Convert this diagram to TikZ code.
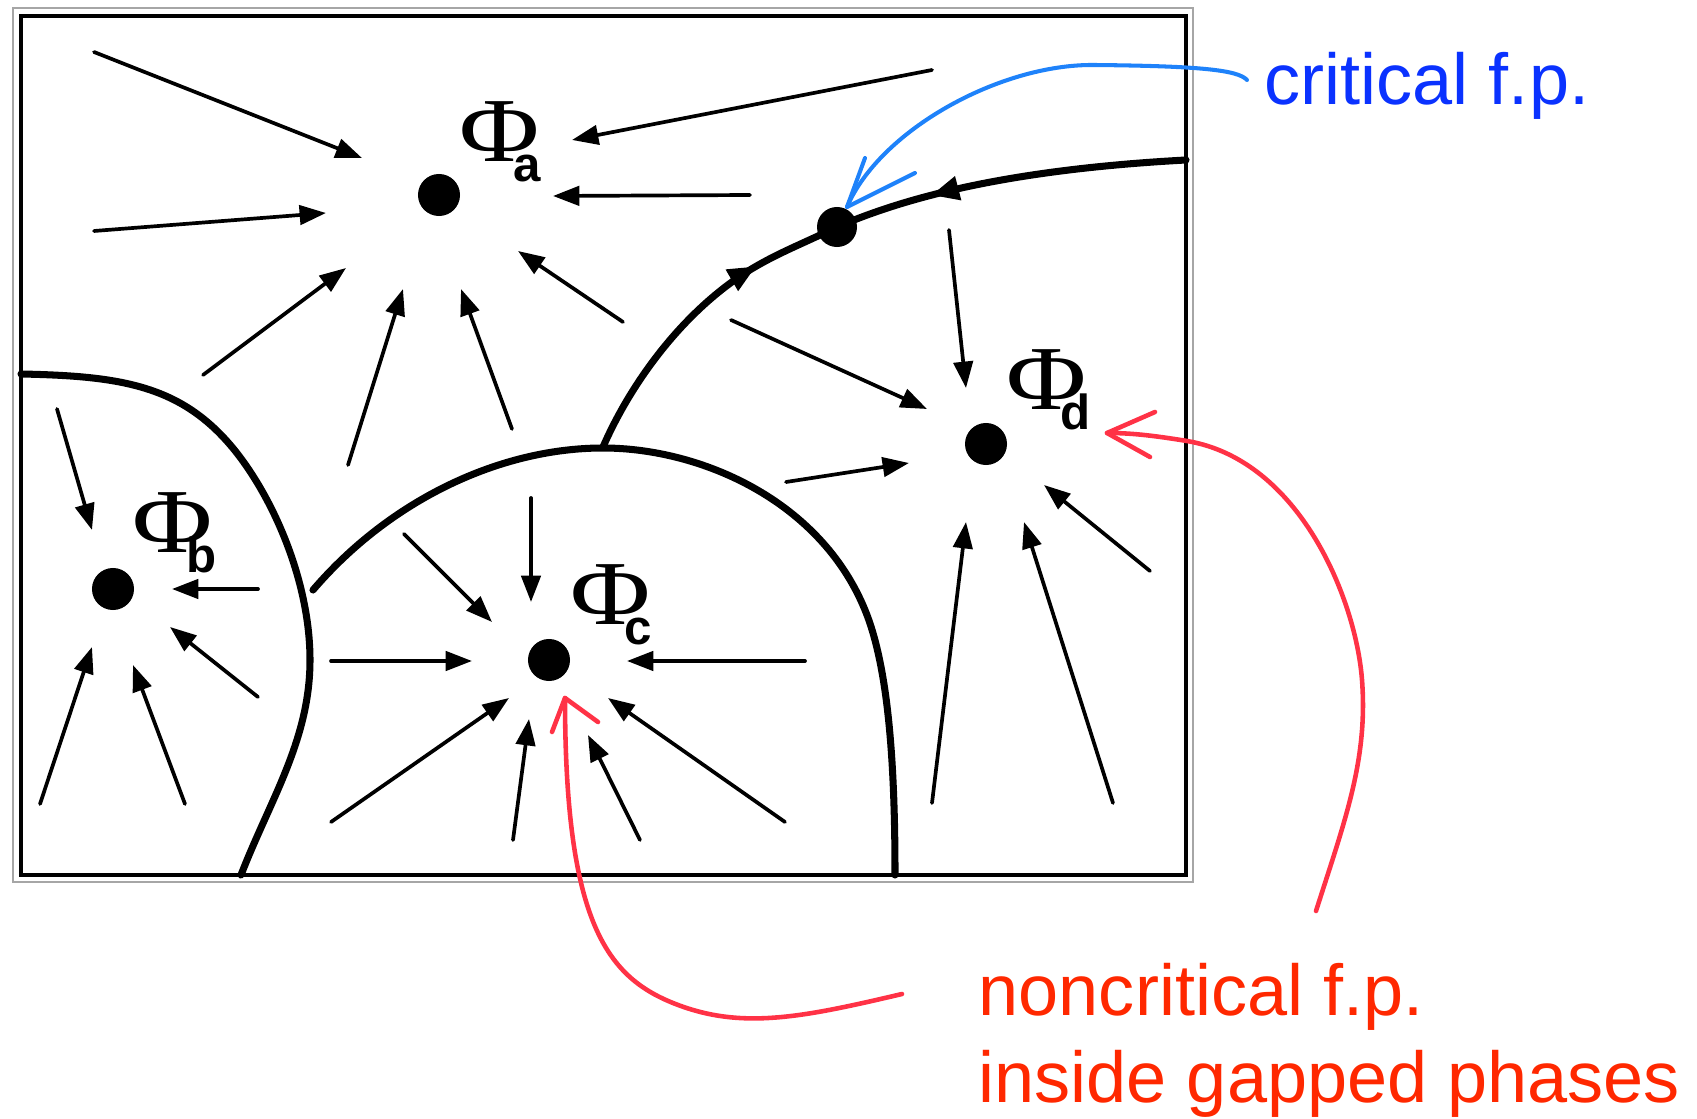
\documentclass[tikz,border=0pt]{standalone}
\usepackage{fontspec}
\setmainfont{Liberation Sans}
\newfontfamily\phifont{Liberation Serif}
\usetikzlibrary{arrows.meta,decorations.markings}
\definecolor{fpblue}{RGB}{10,50,255}
\definecolor{penblue}{RGB}{30,130,250}
\definecolor{fpred}{RGB}{255,40,0}
\definecolor{penred}{RGB}{255,50,70}
\newcommand{\fpname}[1]{\makebox[15.3pt][l]{\phifont\fontsize{26}{26}\selectfont\scalebox{1.2}[1]{Φ}}\raisebox{-5.6pt}{\bfseries\fontsize{14}{14}\selectfont #1}}

\begin{document}
\begin{tikzpicture}[x=0.01cm,y=-0.01cm,
  fp/.style={circle,fill=black,inner sep=0pt,minimum size=0.42cm},
  flow/.style={line width=1.05pt,line cap=round,-{Triangle[length=7.5pt,width=5.5pt]}},
  sep/.style={line width=2pt,line cap=round,line join=round},
  pen/.style={line width=1.3pt,line cap=round,line join=round}]
  \useasboundingbox (0,0) rectangle (1697,1119);
  \draw[gray!70,line width=0.45pt] (13,8) rectangle (1193,882);
  \draw[line width=1.3pt] (21,16) rectangle (1186,875);
  % separatrices
  \draw[sep] (21,374) .. controls (120,376) and (180,385) .. (232,447)
    .. controls (272,495) and (310,580) .. (310,660)
    .. controls (310,740) and (270,800) .. (241,875);
  \draw[sep] (313,590) .. controls (390,500) and (500,448) .. (603,448)
    .. controls (700,448) and (820,500) .. (865,610)
    .. controls (888,666) and (895,760) .. (895,875);
  \draw[sep,postaction={decorate},decoration={markings,
      mark=at position 0.35 with {\arrow{Triangle[length=8pt,width=6.5pt]}},
      mark=at position 0.625 with {\arrowreversed{Triangle[length=8pt,width=6.5pt]}}}]
    (603,447) .. controls (630,385) and (680,315) .. (745,273)
    .. controls (775,254) and (800,245) .. (837,227)
    .. controls (900,200) and (1000,170) .. (1186,160);
  % fixed points
  \node[fp] (fa) at (439,195) {};
  \node[fp] (fb) at (113,589) {};
  \node[fp] (fc) at (549,660) {};
  \node[fp] (fd) at (986,444) {};
  \node[fp,minimum size=0.4cm] (fcrit) at (837,227) {};
  \node[anchor=base west,inner sep=0pt] (la) at (459,162) {\fpname{a}};
  \node[anchor=base west,inner sep=0pt] (lb) at (132,553) {\fpname{b}};
  \node[anchor=base west,inner sep=0pt] (lc) at (570,625) {\fpname{c}};
  \node[anchor=base west,inner sep=0pt] (ld) at (1006,410) {\fpname{d}};
  % flow lines
  \foreach \x/\y/\u/\v in {94/52/362/158, 94/231/326/213, 203/375/346/268, 348/465/403/289,
      512/429/461/289, 623/322/518/251, 750/195/553/196, 932/70/572/140,
      949/230/966/388, 731/320/927/409, 786/482/909/463, 932/803/966/522,
      1113/803/1024/522, 1150/571/1044/485,
      57/409/92/530, 258/589/172/589, 258/697/170/627, 40/804/92/647, 185/804/133/665,
      531/498/531/602, 404/534/492/622, 331/661/472/661, 805/661/627/661,
      331/822/509/698, 513/840/529/719, 640/840/588/735, 785/822/608/698}
    \draw[flow] (\x,\y) -- (\u,\v);
  % annotations
  \node[anchor=base west,inner sep=0pt,text=fpblue,font=\fontsize{20.5}{24.5}\selectfont] (crit) at (1264,105) {critical f.p.};
  \node[anchor=base west,inner sep=0pt,text=fpred,align=left,font=\fontsize{20.5}{24.5}\selectfont] (noncrit) at (978,1102) {noncritical f.p.\\inside gapped phases};
  \coordinate (btail) at (1247,80); \coordinate (btip) at (847,207);
  \draw[pen,penblue,line width=1.15pt] (btail) .. controls (1238,70) and (1200,66) .. (1094,65)
    .. controls (1000,64) and (880,130) .. (btip);
  \draw[pen,penblue,line width=1.15pt] (865,158) -- (btip) -- (915,173);
  \coordinate (rctail) at (902,994); \coordinate (rctip) at (565,698);
  \draw[pen,penred] (rctail) .. controls (800,1018) and (740,1030) .. (673,1003)
    .. controls (606,976) and (565,920) .. (rctip);
  \draw[pen,penred] (552,732) -- (rctip) -- (598,722);
  \coordinate (rdtail) at (1316,911); \coordinate (rdtip) at (1107,433);
  \draw[pen,penred] (rdtail) .. controls (1345,820) and (1368,760) .. (1362,680)
    .. controls (1356,600) and (1300,460) .. (1187,441)
    .. controls (1150,435) and (1130,433) .. (rdtip);
  \draw[pen,penred] (1155,412) -- (rdtip) -- (1150,457);
\end{tikzpicture}
\end{document}
